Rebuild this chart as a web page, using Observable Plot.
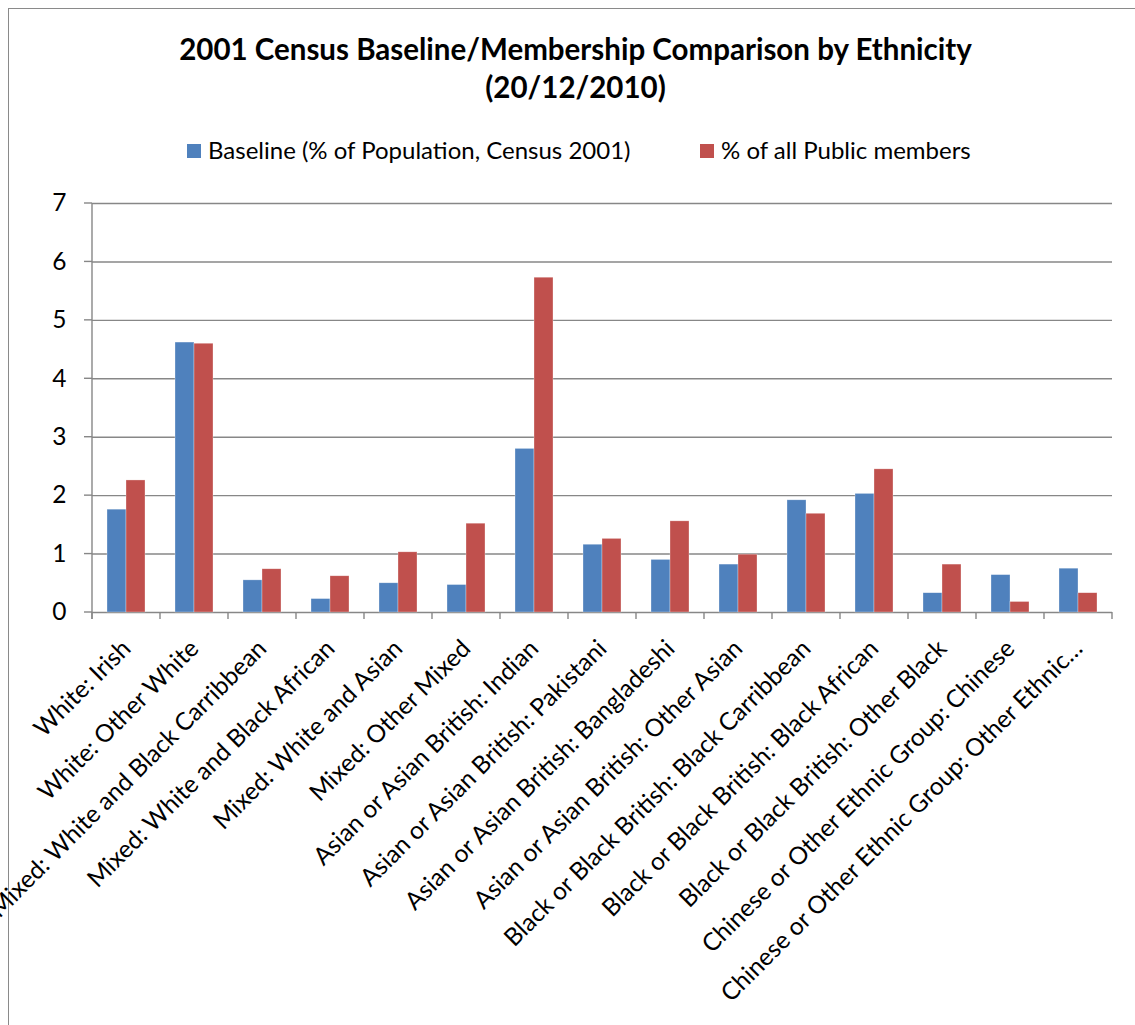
<!DOCTYPE html>
<html>
<head>
<meta charset="utf-8">
<script src="https://cdn.jsdelivr.net/npm/d3@7"></script>
<script src="https://cdn.jsdelivr.net/npm/@observablehq/plot@0.6"></script>
<style>
  html, body { margin: 0; padding: 0; background: #fff; }
  #wrap { position: relative; width: 1135px; height: 1025px; overflow: hidden; font-family: Lato, "Open Sans", sans-serif; color: #000; }
  #frame { position: absolute; left: 8px; top: 8px; width: 1140px; height: 1030px; border-left: 1px solid #8a8a8a; border-top: 1px solid #8a8a8a; box-sizing: border-box; }
  #title { position: absolute; left: 0; width: 1151px; top: 30px; text-align: center; font-weight: bold; font-size: 29.5px; line-height: 38px; }
  #legend { position: absolute; top: 136px; left: 0; width: 1135px; font-size: 24px; }
  .item { position: absolute; top: 0; white-space: nowrap; line-height: 28px; }
  .sw { display: inline-block; width: 14px; height: 14px; margin-right: 7px; vertical-align: 1px; }
  #chart { position: absolute; left: 0; top: 190px; }
</style>
</head>
<body>
<div id="wrap">
  <div id="frame"></div>
  <div id="title">2001 Census Baseline/Membership Comparison by Ethnicity<br>(20/12/2010)</div>
  <div id="legend"></div>
  <div id="chart"></div>
</div>
<script>
const categories = [
  "White: Irish",
  "White: Other White",
  "Mixed: White and Black Carribbean",
  "Mixed: White and Black African",
  "Mixed: White and Asian",
  "Mixed: Other Mixed",
  "Asian or Asian British: Indian",
  "Asian or Asian British: Pakistani",
  "Asian or Asian British: Bangladeshi",
  "Asian or Asian British: Other Asian",
  "Black or Black British: Black Carribbean",
  "Black or Black British: Black African",
  "Black or Black British: Other Black",
  "Chinese or Other Ethnic Group: Chinese",
  "Chinese or Other Ethnic Group: Other Ethnic…"
];
const seriesNames = ["Baseline (% of Population, Census 2001)", "% of all Public members"];
const baseline = [1.76, 4.62, 0.55, 0.23, 0.50, 0.47, 2.80, 1.16, 0.90, 0.82, 1.92, 2.03, 0.33, 0.64, 0.75];
const members  = [2.26, 4.60, 0.74, 0.62, 1.03, 1.52, 5.73, 1.26, 1.56, 0.99, 1.69, 2.45, 0.82, 0.18, 0.33];
const yTicks = [0, 1, 2, 3, 4, 5, 6, 7];
const colors = ["#4F81BD", "#C0504D"];

const rows = categories.flatMap((c, i) => [
  {category: c, series: seriesNames[0], value: baseline[i]},
  {category: c, series: seriesNames[1], value: members[i]}
]);

// legend
const legend = document.getElementById("legend");
const legendX = [187, 700];
seriesNames.forEach((s, i) => {
  const d = document.createElement("div");
  d.className = "item";
  d.style.left = legendX[i] + "px";
  d.innerHTML = `<span class="sw" style="background:${colors[i]}"></span>${s}`;
  legend.appendChild(d);
});

const gridColor = "#878787";
const chart = Plot.plot({
  width: 1135,
  height: 835,
  marginTop: 13,
  marginBottom: 413,
  marginLeft: 91,
  marginRight: 22,
  style: {fontFamily: "Lato, 'Open Sans', sans-serif", fontSize: "24.5px", color: "#000", background: "transparent", overflow: "visible"},
  facet: {data: rows, x: "category"},
  fx: {domain: categories, padding: 0, label: null, axis: "bottom", tickRotate: -45, tickSize: 0, tickPadding: 32},
  x: {domain: seriesNames, axis: null, paddingInner: 0, paddingOuter: 0.75},
  y: {domain: [0, 7], ticks: yTicks, tickFormat: d3.format("d"), label: null, tickSize: 0, tickPadding: 26},
  color: {domain: seriesNames, range: colors},
  marks: [
    Plot.ruleY(yTicks, {stroke: gridColor, strokeWidth: 1.4}),
    Plot.barY(rows, {x: "series", y: "value", fill: "series", stroke: "#fff", strokeOpacity: 0.5, strokeWidth: 0.6})
  ]
});
document.getElementById("chart").appendChild(chart);

// axis lines and ticks drawn with the plot's own scales
const yS = chart.scale("y");
const fxS = chart.scale("fx");
const svg = d3.select(chart);
const g = svg.append("g").attr("stroke", gridColor).attr("stroke-width", 1.4);
const x0 = fxS.apply(categories[0]);
const y0 = yS.apply(0), y7 = yS.apply(7);
g.append("line").attr("x1", x0).attr("x2", x0).attr("y1", y7).attr("y2", y0 + 7);
yTicks.forEach(t => {
  g.append("line").attr("x1", x0 - 8).attr("x2", x0).attr("y1", yS.apply(t)).attr("y2", yS.apply(t));
});
const bounds = categories.map(c => fxS.apply(c));
bounds.push(fxS.apply(categories[categories.length - 1]) + fxS.bandwidth);
bounds.forEach(b => {
  g.append("line").attr("x1", b).attr("x2", b).attr("y1", y0).attr("y2", y0 + 7);
});
</script>
</body>
</html>
